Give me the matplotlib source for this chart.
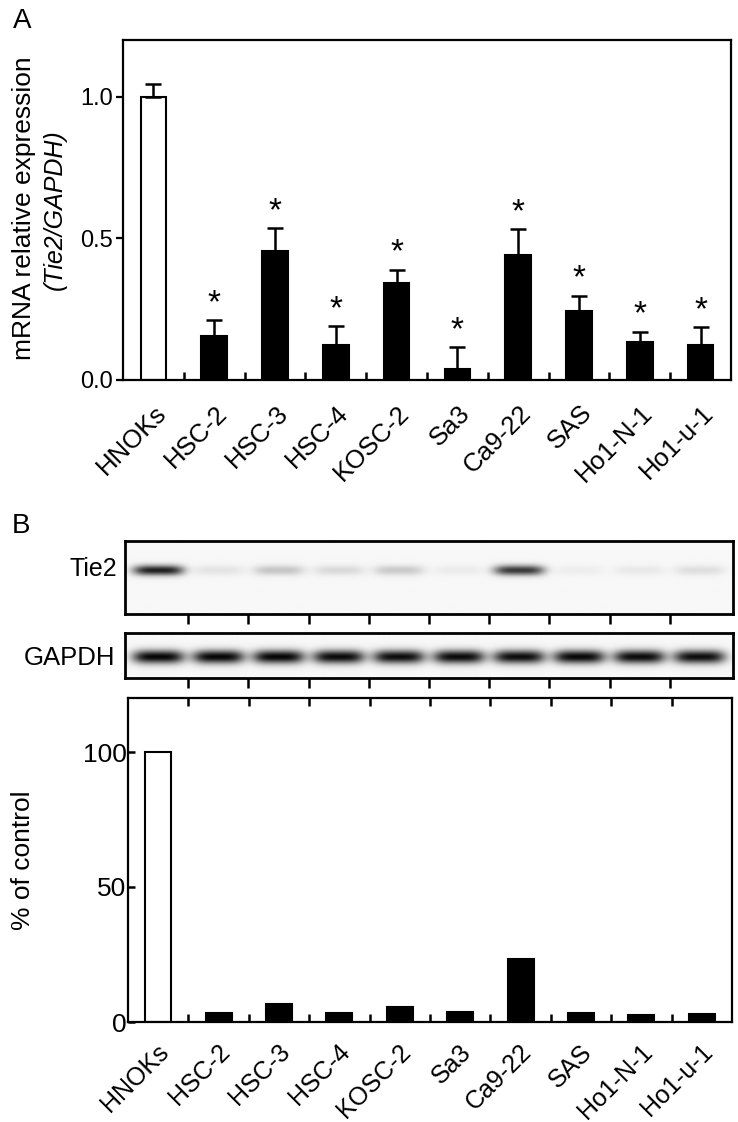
import numpy as np
import matplotlib.pyplot as plt
from matplotlib.transforms import ScaledTranslation

plt.rcParams['font.family'] = ['Liberation Sans', 'DejaVu Sans']

# data
cell_lines = ['HNOKs', 'HSC-2', 'HSC-3', 'HSC-4', 'KOSC-2', 'Sa3',
              'Ca9-22', 'SAS', 'Ho1-N-1', 'Ho1-u-1']
mrna_mean = [1.00, 0.157, 0.456, 0.123, 0.342, 0.040, 0.442, 0.244, 0.135, 0.125]
mrna_err = [0.046, 0.053, 0.079, 0.067, 0.047, 0.075, 0.090, 0.053, 0.036, 0.061]
mrna_signif = [False, True, True, True, True, True, True, True, True, True]
protein_pct = [100, 3.5, 6.7, 3.5, 5.7, 3.6, 23.3, 3.2, 2.7, 3.1]
# band darkness per lane in the western blots (0 = none, 1 = black)
tie2_band = [0.85, 0.08, 0.20, 0.12, 0.18, 0.05, 0.75, 0.04, 0.06, 0.10]
gapdh_band = [0.95, 0.95, 0.95, 0.93, 0.92, 0.93, 0.92, 0.94, 0.93, 0.92]

W, H = 738, 1122
fig = plt.figure(figsize=(W / 100, H / 100), dpi=100)


def box(left, top, right, bottom):
    return [left / W, 1 - bottom / H, (right - left) / W, (bottom - top) / H]


x = np.arange(len(cell_lines))
bar_colors = ['white'] + ['black'] * (len(cell_lines) - 1)


def rotate_labels(ax, dx_px):
    shift = ScaledTranslation(dx_px / 100, 0, fig.dpi_scale_trans)
    for lbl in ax.get_xticklabels():
        lbl.set_rotation(45)
        lbl.set_ha('right')
        lbl.set_va('center')
        lbl.set_rotation_mode('anchor')
        lbl.set_transform(lbl.get_transform() + shift)


# ---- panel A ----
axA = fig.add_axes(box(123, 40, 731, 380))
axA.bar(x, mrna_mean, width=0.42, color=bar_colors, edgecolor='black',
        linewidth=1.5, zorder=2)
axA.errorbar(x, mrna_mean, yerr=[np.zeros(len(x)), mrna_err], fmt='none',
             ecolor='black', elinewidth=1.8, capsize=5.5, capthick=1.8, zorder=3)
for i, flag in enumerate(mrna_signif):
    if flag:
        axA.annotate('*', (x[i], mrna_mean[i] + mrna_err[i]), xytext=(0, 1),
                     textcoords='offset points', ha='center', va='bottom',
                     fontsize=24)
axA.set_xlim(-0.5, 9.5)
axA.set_ylim(0, 1.2)
axA.set_yticks([0, 0.5, 1.0], ['0.0', '0.5', '1.0'])
axA.tick_params(axis='y', direction='out', length=5, width=1.6,
                labelsize=17, pad=2)
axA.set_xticks(x, cell_lines)
axA.set_xticks(x[:-1] + 0.5, minor=True)
axA.tick_params(axis='x', which='major', length=0, pad=21, labelsize=18.5)
axA.tick_params(axis='x', which='minor', direction='in', length=6, width=1.8)
rotate_labels(axA, 9)
for sp in axA.spines.values():
    sp.set_linewidth(1.6)

fig.text(24 / W, 1 - 208 / H, 'mRNA relative expression', rotation=90,
         ha='center', va='center', fontsize=19)
fig.text(55 / W, 1 - 210 / H, '(Tie2/GAPDH)', rotation=90, style='italic',
         ha='center', va='center', fontsize=18)
fig.text(13 / W, 1 - 28 / H, 'A', fontsize=20, va='baseline')
fig.text(12 / W, 1 - 533 / H, 'B', fontsize=20, va='baseline')


# ---- western blots ----
def blot(ax, darkness, y0, thick, half_w):
    xs = np.linspace(-0.55, 9.55, 700)
    ys = np.linspace(0, 1, 90)
    xx, yy = np.meshgrid(xs, ys)
    img = np.full(xx.shape, 0.03)
    for i, d in enumerate(darkness):
        img += d * np.exp(-((yy - y0) / thick) ** 2) * np.exp(-((xx - i) / half_w) ** 4)
    ax.imshow(np.clip(img, 0, 1), cmap='gray_r', vmin=0, vmax=1,
              extent=(-0.55, 9.55, 1, 0), aspect='auto', interpolation='bilinear')
    ax.set_xlim(-0.55, 9.55)
    ax.set_ylim(1, 0)
    ax.set_yticks([])
    ax.set_xticks(x[:-1] + 0.5)
    ax.tick_params(axis='x', direction='out', length=7, width=1.8,
                   labelbottom=False)
    for sp in ax.spines.values():
        sp.set_linewidth(2)


axT = fig.add_axes(box(125, 541, 733, 614))
blot(axT, tie2_band, 0.40, 0.07, 0.42)
axG = fig.add_axes(box(125, 633, 733, 678))
blot(axG, gapdh_band, 0.53, 0.15, 0.43)
fig.text(117 / W, 1 - 576 / H, 'Tie2', ha='right', va='baseline', fontsize=18)
fig.text(115 / W, 1 - 665 / H, 'GAPDH', ha='right', va='baseline', fontsize=18.5)

# ---- panel B densitometry ----
axB = fig.add_axes(box(128, 698, 732, 1022))
axB.bar(x, protein_pct, width=0.43, color=bar_colors, edgecolor='black',
        linewidth=1.5, zorder=2)
axB.set_xlim(-0.5, 9.5)
axB.set_ylim(0, 120)
axB.set_yticks([0, 50, 100])
axB.tick_params(axis='y', direction='in', length=5, width=1.8,
                labelsize=19, pad=1)
axB.set_xticks(x, cell_lines)
axB.set_xticks(x[:-1] + 0.5, minor=True)
axB.tick_params(axis='x', which='major', length=0, pad=19, labelsize=18)
axB.tick_params(axis='x', which='minor', direction='in', length=6, width=1.8,
                top=True)
rotate_labels(axB, 7)
for sp in axB.spines.values():
    sp.set_linewidth(1.6)
fig.text(23 / W, 1 - 860 / H, '% of control', rotation=90, ha='center',
         va='center', fontsize=19)

fig.savefig('out.png', dpi=100)
